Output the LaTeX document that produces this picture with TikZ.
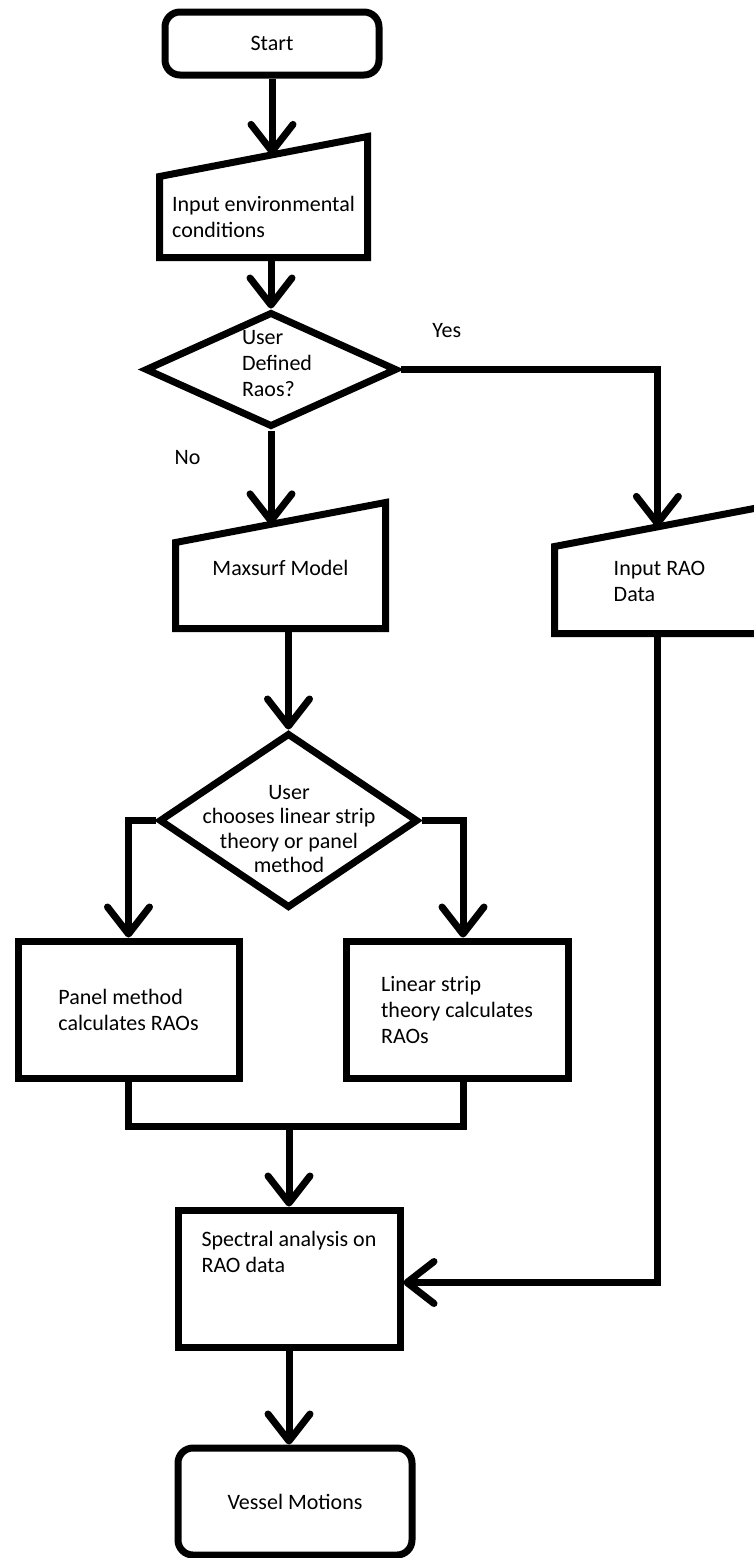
\documentclass[tikz,border=0pt]{standalone}
\usepackage{fontspec}
\setmainfont{Carlito}
\usetikzlibrary{arrows.meta,shapes.geometric,calc}

\begin{document}
\begin{tikzpicture}[
  x=1pt, y=-1pt, line width=7pt,
  txt/.style={font=\fontsize{22}{26}\selectfont, inner sep=0pt, align=left},
  term/.style={txt, draw, rounded corners=15pt, align=center},
  io/.style={txt},
  proc/.style={txt, draw, minimum width=222pt, minimum height=137pt},
  decision/.style={diamond, draw, inner sep=0pt},
  lbl/.style={txt},
  arr/.style={-{Straight Barb[length=27pt, width=42pt, round]}},
]
\useasboundingbox (0,0) rectangle (754,1558);

\node[term, minimum width=214pt, minimum height=63pt] (start) at (272,43.5) {Start};

% manual inputs: node is the lower box, top edge rises 40pt to the right
\node[io, minimum width=201pt, minimum height=74pt] (env) at (263.5,217) {Input environmental\\conditions};
\draw (env.south west) -- (env.north west) -- ([yshift=40pt]env.north east) -- (env.south east) -- cycle;
\coordinate (env-in) at ($(env.north west)!.54!([yshift=40pt]env.north east)$);

\node[decision, minimum width=252pt, minimum height=115pt] (raos) at (271,369.5) {};
\node[txt] (raos-txt) at (277,364) {User\\Defined\\Raos?};

\node[io, minimum width=203pt, minimum height=79pt, text depth=35pt] (maxs) at (280.5,585.5) {Maxsurf Model};
\draw (maxs.south west) -- (maxs.north west) -- ([yshift=40pt]maxs.north east) -- (maxs.south east) -- cycle;
\coordinate (maxs-in) at ($(maxs.north west)!.453!([yshift=40pt]maxs.north east)$);

\node[io, minimum width=203pt, minimum height=80pt, text depth=18pt] (rao) at (659.5,590) {Input RAO\\Data};
\draw (rao.south west) -- (rao.north west) -- ([yshift=40pt]rao.north east) -- (rao.south east) -- cycle;
\coordinate (rao-in) at ($(rao.north west)!.49!([yshift=40pt]rao.north east)$);

\node[decision, minimum width=259pt, minimum height=175pt] (choose) at (288.5,820.5) {};
\node[txt, align=center, font=\fontsize{22}{24.5}\selectfont] (choose-txt) at (289,829)
  {User\\chooses linear strip\\theory or panel\\method};

\node[proc, minimum width=221pt] (panel) at (128.5,1009.5) {Panel method\\calculates RAOs};
\node[proc] (strip) at (457,1009.5) {Linear strip\\theory calculates\\RAOs};
\node[proc, text depth=53pt] (spec) at (289,1278.5) {Spectral analysis on\\RAO data};

\node[term, minimum width=234pt, minimum height=107pt] (vessel) at (295,1501.5) {Vessel Motions};

% connectors
\draw[arr] (start.south) -- (start |- env-in);
\draw[arr] (raos.north |- env.south) -- (raos.north);
\draw[arr] (raos.east) -| node[lbl, pos=0.09, above=28pt] (yes) {Yes} (rao-in);
\draw[arr] (raos.south) -- node[lbl, pos=0.29, left=67pt] (no) {No} (raos.south |- maxs-in);
\draw[arr] (choose.north |- maxs.south) -- (choose.north);
\draw[arr] (choose.west) -| (panel.north);
\draw[arr] (choose.east) -| ([xshift=6pt]strip.north);
\draw (panel.south) -- ++(0,45) coordinate (jl) -| ([xshift=6pt]strip.south);
\draw[arr] (spec.north |- jl) -- (spec.north);
\draw[arr] (rao-in |- rao.south) |- ([yshift=-4pt]spec.east);
\draw[arr] (spec.south) -- (spec.south |- vessel.north);
\end{tikzpicture}
\end{document}
